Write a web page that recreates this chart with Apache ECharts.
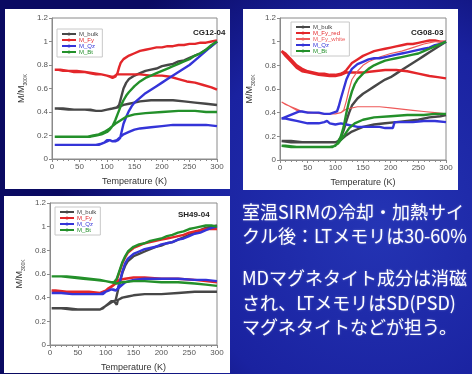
<!DOCTYPE html>
<html>
<head>
<meta charset="utf-8">
<script src="https://cdn.jsdelivr.net/npm/echarts@6/dist/echarts.min.js"></script>
<style>
  html, body { margin: 0; padding: 0; background: #10147a; }
  #chart { width: 472px; height: 374px; }
</style>
</head>
<body>
<div id="chart"></div>
<script>
// Low-temperature cycling of room-temperature SIRM, normalised to M(300 K).
// Each curve is listed in measurement order: cooling 300 K -> ~5 K, then warming back to 300 K.

// ---- CG12-04 ----
const cg12Bulk = [[300,1.0],[290,0.96],[280,0.93],[270,0.9],[260,0.88],[250,0.86],[240,0.84],[230,0.83],[220,0.81],[210,0.8],[200,0.79],[190,0.77],[180,0.76],[170,0.75],[160,0.73],[150,0.71],[140,0.68],[135,0.65],[130,0.6],[126,0.53],[122,0.46],[118,0.44],[110,0.43],[100,0.42],[90,0.41],[80,0.41],[70,0.42],[50,0.42],[30,0.42],[10,0.43],[5,0.43],
  [20,0.43],[40,0.42],[60,0.42],[80,0.41],[90,0.41],[100,0.42],[110,0.43],[120,0.44],[130,0.46],[140,0.47],[150,0.48],[160,0.49],[180,0.5],[200,0.5],[220,0.5],[240,0.49],[260,0.48],[280,0.47],[300,0.46]];
const cg12Fy = [[300,1.01],[290,1.0],[280,0.99],[270,0.99],[260,0.98],[250,0.98],[240,0.97],[230,0.97],[220,0.96],[210,0.96],[200,0.95],[190,0.95],[180,0.94],[170,0.93],[160,0.92],[150,0.9],[140,0.88],[130,0.85],[125,0.82],[122,0.78],[119,0.73],[115,0.7],[110,0.69],[105,0.7],[100,0.71],[90,0.72],[80,0.72],[70,0.73],[60,0.74],[50,0.74],[40,0.74],[30,0.75],[20,0.75],[10,0.76],[5,0.76],
  [15,0.76],[30,0.75],[45,0.75],[60,0.74],[75,0.73],[90,0.72],[100,0.71],[108,0.7],[112,0.7],[118,0.72],[125,0.72],[140,0.72],[160,0.72],[180,0.71],[200,0.71],[215,0.7],[230,0.68],[245,0.66],[260,0.65],[275,0.63],[290,0.61],[300,0.59]];
const cg12Qz = [[300,1.0],[290,0.96],[280,0.92],[270,0.88],[260,0.84],[250,0.8],[240,0.77],[230,0.74],[220,0.71],[210,0.68],[200,0.65],[190,0.62],[180,0.59],[170,0.56],[160,0.52],[150,0.48],[145,0.45],[140,0.41],[135,0.36],[130,0.3],[127,0.24],[124,0.18],[120,0.16],[115,0.15],[110,0.15],[105,0.16],[100,0.16],[95,0.14],[90,0.13],[80,0.12],[60,0.12],[40,0.12],[20,0.12],[5,0.12],
  [30,0.12],[50,0.12],[70,0.12],[85,0.12],[95,0.14],[100,0.15],[105,0.16],[110,0.15],[118,0.16],[125,0.19],[130,0.21],[140,0.23],[150,0.25],[160,0.26],[180,0.27],[200,0.28],[220,0.29],[240,0.29],[260,0.29],[280,0.29],[300,0.28]];
const cg12Bt = [[300,1.0],[290,0.97],[280,0.93],[270,0.9],[260,0.88],[250,0.85],[240,0.83],[230,0.81],[220,0.79],[210,0.77],[200,0.75],[190,0.73],[180,0.71],[170,0.69],[160,0.66],[150,0.62],[140,0.57],[135,0.54],[130,0.5],[125,0.45],[120,0.39],[115,0.33],[110,0.28],[105,0.25],[100,0.23],[90,0.21],[80,0.2],[70,0.19],[50,0.19],[30,0.19],[10,0.19],[5,0.19],
  [30,0.19],[50,0.19],[65,0.19],[75,0.2],[85,0.21],[95,0.23],[105,0.26],[115,0.3],[125,0.33],[135,0.36],[150,0.38],[170,0.39],[200,0.4],[230,0.41],[260,0.41],[280,0.4],[300,0.4]];

// ---- CG08-03 ----
const cg08Bulk = [[300,1.0],[290,0.97],[280,0.94],[270,0.91],[260,0.88],[250,0.85],[240,0.82],[230,0.79],[220,0.76],[210,0.73],[200,0.7],[190,0.68],[180,0.65],[170,0.62],[160,0.59],[150,0.56],[140,0.52],[130,0.46],[125,0.4],[120,0.33],[115,0.25],[110,0.19],[105,0.16],[100,0.15],[80,0.15],[60,0.15],[40,0.15],[20,0.16],[3,0.16],
  [20,0.15],[40,0.15],[60,0.15],[80,0.15],[100,0.15],[110,0.17],[120,0.21],[130,0.24],[140,0.26],[150,0.28],[170,0.3],[190,0.31],[210,0.32],[230,0.33],[250,0.34],[270,0.36],[290,0.37],[300,0.38]];
const cg08FyRed = [[300,1.0],[290,1.0],[280,1.01],[270,1.01],[260,1.0],[250,0.99],[240,0.98],[230,0.98],[220,0.97],[210,0.96],[200,0.95],[190,0.94],[180,0.93],[170,0.92],[160,0.9],[150,0.88],[140,0.85],[130,0.82],[125,0.79],[120,0.76],[115,0.74],[110,0.73],[100,0.72],[90,0.72],[80,0.73],[70,0.73],[60,0.74],[50,0.75],[40,0.77],[30,0.8],[20,0.85],[10,0.9],[3,0.92],
  [10,0.88],[20,0.83],[30,0.78],[40,0.75],[50,0.74],[70,0.72],[90,0.71],[100,0.71],[110,0.72],[120,0.74],[135,0.74],[150,0.74],[170,0.75],[190,0.76],[210,0.76],[230,0.75],[250,0.73],[270,0.71],[285,0.7],[300,0.69]];
const cg08FyWhite = [[300,1.0],[280,1.0],[260,0.98],[240,0.95],[220,0.92],[200,0.9],[180,0.87],[160,0.83],[150,0.8],[140,0.75],[130,0.68],[125,0.6],[120,0.5],[115,0.42],[110,0.4],[100,0.39],[80,0.39],[60,0.4],[40,0.41],[30,0.43],[20,0.45],[10,0.47],[3,0.49],
  [15,0.46],[30,0.42],[50,0.4],[80,0.39],[100,0.39],[110,0.4],[120,0.43],[140,0.45],[160,0.45],[180,0.45],[200,0.44],[220,0.43],[240,0.42],[260,0.41],[280,0.4],[300,0.39]];
const cg08Qz = [[300,1.0],[290,0.98],[280,0.97],[270,0.95],[260,0.94],[250,0.93],[240,0.92],[230,0.91],[220,0.9],[210,0.89],[200,0.88],[190,0.87],[180,0.86],[170,0.86],[160,0.85],[150,0.83],[140,0.81],[130,0.77],[125,0.73],[120,0.68],[115,0.6],[110,0.52],[106,0.45],[103,0.41],[100,0.4],[90,0.39],[80,0.39],[70,0.4],[60,0.4],[50,0.4],[40,0.41],[35,0.41],
  [3,0.35],[10,0.35],[20,0.34],[30,0.33],[40,0.32],[50,0.31],[60,0.31],[70,0.31],[80,0.32],[85,0.33],[90,0.31],[100,0.3],[110,0.31],[120,0.3],[130,0.29],[140,0.28],[160,0.28],[180,0.28],[190,0.27],[204,0.27],[207,0.32],[220,0.32],[240,0.32],[260,0.33],[280,0.33],[300,0.32]];
const cg08Bt = [[300,1.0],[290,0.98],[280,0.96],[270,0.94],[260,0.92],[250,0.9],[240,0.89],[230,0.88],[220,0.87],[210,0.86],[200,0.85],[190,0.84],[180,0.82],[170,0.8],[160,0.77],[150,0.73],[140,0.68],[135,0.64],[130,0.58],[125,0.5],[120,0.4],[115,0.28],[110,0.2],[105,0.15],[100,0.12],[90,0.11],[70,0.11],[50,0.11],[30,0.11],[10,0.12],[3,0.12],
  [20,0.11],[40,0.11],[60,0.11],[80,0.11],[95,0.11],[105,0.14],[115,0.2],[125,0.27],[135,0.31],[150,0.34],[170,0.36],[200,0.37],[230,0.38],[260,0.38],[280,0.39],[300,0.39]];

// ---- SH49-04 ----
const sh49Bulk = [[300,1.01],[290,1.0],[280,0.99],[270,0.97],[260,0.95],[250,0.93],[240,0.91],[230,0.89],[220,0.87],[210,0.86],[200,0.84],[190,0.83],[180,0.81],[170,0.79],[160,0.77],[150,0.75],[140,0.71],[135,0.67],[130,0.61],[126,0.54],[122,0.46],[120,0.42],[118,0.38],[114,0.37],[110,0.37],[105,0.35],[100,0.33],[95,0.31],[90,0.3],[70,0.3],[50,0.3],[30,0.31],[10,0.31],[3,0.31],
  [20,0.31],[40,0.3],[60,0.3],[80,0.3],[90,0.3],[100,0.33],[110,0.36],[115,0.37],[120,0.34],[122,0.38],[130,0.4],[140,0.41],[150,0.42],[170,0.43],[200,0.43],[230,0.44],[260,0.45],[280,0.45],[300,0.45]];
const sh49Fy = [[300,0.98],[290,0.98],[280,0.98],[270,0.97],[260,0.96],[250,0.95],[240,0.93],[230,0.92],[220,0.91],[210,0.9],[200,0.89],[190,0.88],[180,0.87],[170,0.86],[160,0.84],[150,0.82],[140,0.78],[135,0.74],[130,0.69],[125,0.62],[120,0.55],[117,0.52],[112,0.5],[105,0.48],[100,0.46],[95,0.45],[90,0.44],[70,0.45],[50,0.45],[30,0.45],[10,0.46],[3,0.46],
  [20,0.45],[40,0.45],[60,0.45],[80,0.44],[90,0.44],[100,0.46],[110,0.49],[118,0.52],[125,0.55],[135,0.56],[150,0.57],[170,0.57],[200,0.56],[230,0.56],[260,0.55],[280,0.54],[300,0.53]];
const sh49Qz = [[300,1.0],[290,0.99],[280,0.97],[270,0.95],[260,0.94],[250,0.92],[240,0.9],[230,0.89],[220,0.87],[210,0.86],[200,0.85],[190,0.83],[180,0.82],[170,0.81],[160,0.79],[150,0.77],[140,0.73],[135,0.69],[130,0.62],[126,0.54],[122,0.48],[118,0.46],[114,0.47],[110,0.47],[105,0.46],[100,0.45],[95,0.43],[80,0.43],[60,0.43],[40,0.43],[20,0.44],[3,0.44],
  [20,0.44],[40,0.43],[60,0.43],[80,0.43],[90,0.43],[100,0.45],[110,0.47],[118,0.46],[125,0.49],[135,0.53],[150,0.55],[170,0.56],[200,0.56],[230,0.56],[260,0.55],[280,0.55],[300,0.54]];
const sh49Bt = [[300,1.0],[290,1.01],[280,1.01],[270,1.0],[260,0.99],[250,0.98],[240,0.96],[230,0.95],[220,0.93],[210,0.92],[200,0.9],[190,0.89],[180,0.88],[170,0.86],[160,0.85],[150,0.83],[140,0.79],[135,0.75],[130,0.7],[125,0.63],[120,0.56],[115,0.53],[110,0.53],[100,0.54],[90,0.55],[70,0.56],[50,0.57],[30,0.58],[10,0.58],[3,0.58],
  [20,0.58],[40,0.57],[60,0.56],[80,0.55],[100,0.54],[110,0.53],[120,0.52],[130,0.53],[150,0.54],[170,0.54],[200,0.53],[230,0.53],[260,0.52],[280,0.51],[300,0.5]];

// Panel titles and the note beside the bottom panel
const panelTitles = ['CG12-04', 'CG08-03', 'SH49-04'];
const noteLines = [
  '室温SIRMの冷却・加熱サイ',
  'クル後：LTメモリは30-60%',
  '',
  'MDマグネタイト成分は消磁',
  'され、LTメモリはSD(PSD)',
  'マグネタイトなどが担う。'
];

const C = { bulk: '#474747', fy: '#e3262a', fyw: '#ee5a5a', qz: '#3434d8', bt: '#23902a' };

// panel boxes (white) and plot areas
const panels = [
  { box: [5, 9, 225, 180], grid: { left: 52, top: 18, width: 165, height: 141 } },
  { box: [243, 9, 215, 181], grid: { left: 280, top: 18, width: 166, height: 142 } },
  { box: [4, 196, 226, 177], grid: { left: 50, top: 203, width: 167, height: 142 } }
];

const panelSeries = [
  [['M_bulk', cg12Bulk, C.bulk, 2.4], ['M_Fy', cg12Fy, C.fy, 2.4], ['M_Qz', cg12Qz, C.qz, 2.4], ['M_Bt', cg12Bt, C.bt, 2.4]],
  [['M_bulk', cg08Bulk, C.bulk, 2.4], ['M_Fy_red', cg08FyRed, C.fy, 2.4], ['M_Fy_white', cg08FyWhite, C.fyw, 1.2], ['M_Qz', cg08Qz, C.qz, 2.4], ['M_Bt', cg08Bt, C.bt, 2.4]],
  [['M_bulk', sh49Bulk, C.bulk, 2.4], ['M_Fy', sh49Fy, C.fy, 2.4], ['M_Qz', sh49Qz, C.qz, 2.4], ['M_Bt', sh49Bt, C.bt, 2.4]]
];

const legendPos = [
  { left: 57, top: 29 },
  { left: 291, top: 22 },
  { left: 55, top: 207 }
];

const titlePos = [[193, 33], [411, 33], [178, 215]];

const grids = [], xAxes = [], yAxes = [], series = [], legends = [], graphics = [];

// slide background
graphics.push({
  type: 'rect', z: -100, shape: { x: 0, y: 0, width: 472, height: 374 },
  style: { fill: { type: 'radial', x: 0.8, y: 0.6, r: 0.85,
    colorStops: [{ offset: 0, color: '#2434b4' }, { offset: 0.6, color: '#1a22a0' }, { offset: 1, color: '#0a0a62' }] } }
});

panels.forEach((p, i) => {
  graphics.push({ type: 'rect', z: -50, shape: { x: p.box[0], y: p.box[1], width: p.box[2], height: p.box[3] }, style: { fill: '#ffffff' } });
  grids.push(Object.assign({ show: true, borderColor: '#8a8a8a', borderWidth: 1, backgroundColor: 'transparent' }, p.grid));
  xAxes.push({
    type: 'value', gridIndex: i, min: 0, max: 300, interval: 50,
    name: 'Temperature (K)', nameLocation: 'middle', nameGap: 18,
    nameTextStyle: { fontSize: 9, color: '#333', fontFamily: 'Liberation Sans' },
    axisLine: { lineStyle: { color: '#8a8a8a' } },
    axisTick: { inside: false, length: 3, lineStyle: { color: '#8a8a8a' } },
    minorTick: { show: true, splitNumber: 5, length: 2, lineStyle: { color: '#8a8a8a' } },
    axisLabel: { fontSize: 8, color: '#555', margin: 4, fontFamily: 'Liberation Sans' },
    splitLine: { show: false }
  });
  yAxes.push({
    type: 'value', gridIndex: i, min: 0, max: 1.2, interval: 0.2,
    name: '{m|M/M}{s|300K}', nameLocation: 'middle', nameRotate: 90, nameGap: 24,
    nameTextStyle: { rich: {
      m: { fontSize: 9, color: '#333', fontFamily: 'Liberation Sans', lineHeight: 12 },
      s: { fontSize: 5, color: '#333', fontFamily: 'Liberation Sans', verticalAlign: 'bottom', lineHeight: 12 }
    } },
    axisLine: { lineStyle: { color: '#8a8a8a' } },
    axisTick: { length: 3, lineStyle: { color: '#8a8a8a' } },
    axisLabel: { fontSize: 8, color: '#555', margin: 4, fontFamily: 'Liberation Sans' },
    splitLine: { show: false }
  });
  const legendData = [];
  panelSeries[i].forEach(([name, data, color, w]) => {
    series.push({
      type: 'line', name, xAxisIndex: i, yAxisIndex: i, data,
      showSymbol: false, symbol: 'circle', symbolSize: 3,
      itemStyle: { color }, lineStyle: { color, width: w },
      animation: false, silent: true
    });
    legendData.push({ name, textStyle: { color } });
  });
  legends.push(Object.assign({
    orient: 'vertical', data: legendData,
    itemWidth: 14, itemHeight: 4, itemGap: 0, padding: [2, 4, 2, 4],
    borderColor: '#c8c8c8', borderWidth: 1,
    textStyle: { fontSize: 6, fontFamily: 'Liberation Sans', padding: [0, 0, 0, -2] },
    selectedMode: false
  }, legendPos[i]));
  graphics.push({
    type: 'text', x: titlePos[i][0], y: titlePos[i][1],
    style: { text: panelTitles[i], fill: '#222', font: 'bold 8px "Liberation Sans"', verticalAlign: 'middle' }
  });
});

// explanatory note on the right
const lineY = [212, 236, 0, 278, 303, 327];
noteLines.forEach((t, k) => {
  if (!t) return;
  graphics.push({
    type: 'text', x: 242, y: lineY[k],
    style: { text: t, fill: '#ffffff', font: '18px "Noto Sans CJK JP"', verticalAlign: 'middle',
      textShadowColor: 'rgba(255,255,255,0.35)', textShadowBlur: 2 }
  });
});

const chart = echarts.init(document.getElementById('chart'), null, { renderer: 'canvas' });
chart.setOption({
  animation: false,
  grid: grids, xAxis: xAxes, yAxis: yAxes, series, legend: legends,
  graphic: { elements: graphics }
});
</script>
</body>
</html>
